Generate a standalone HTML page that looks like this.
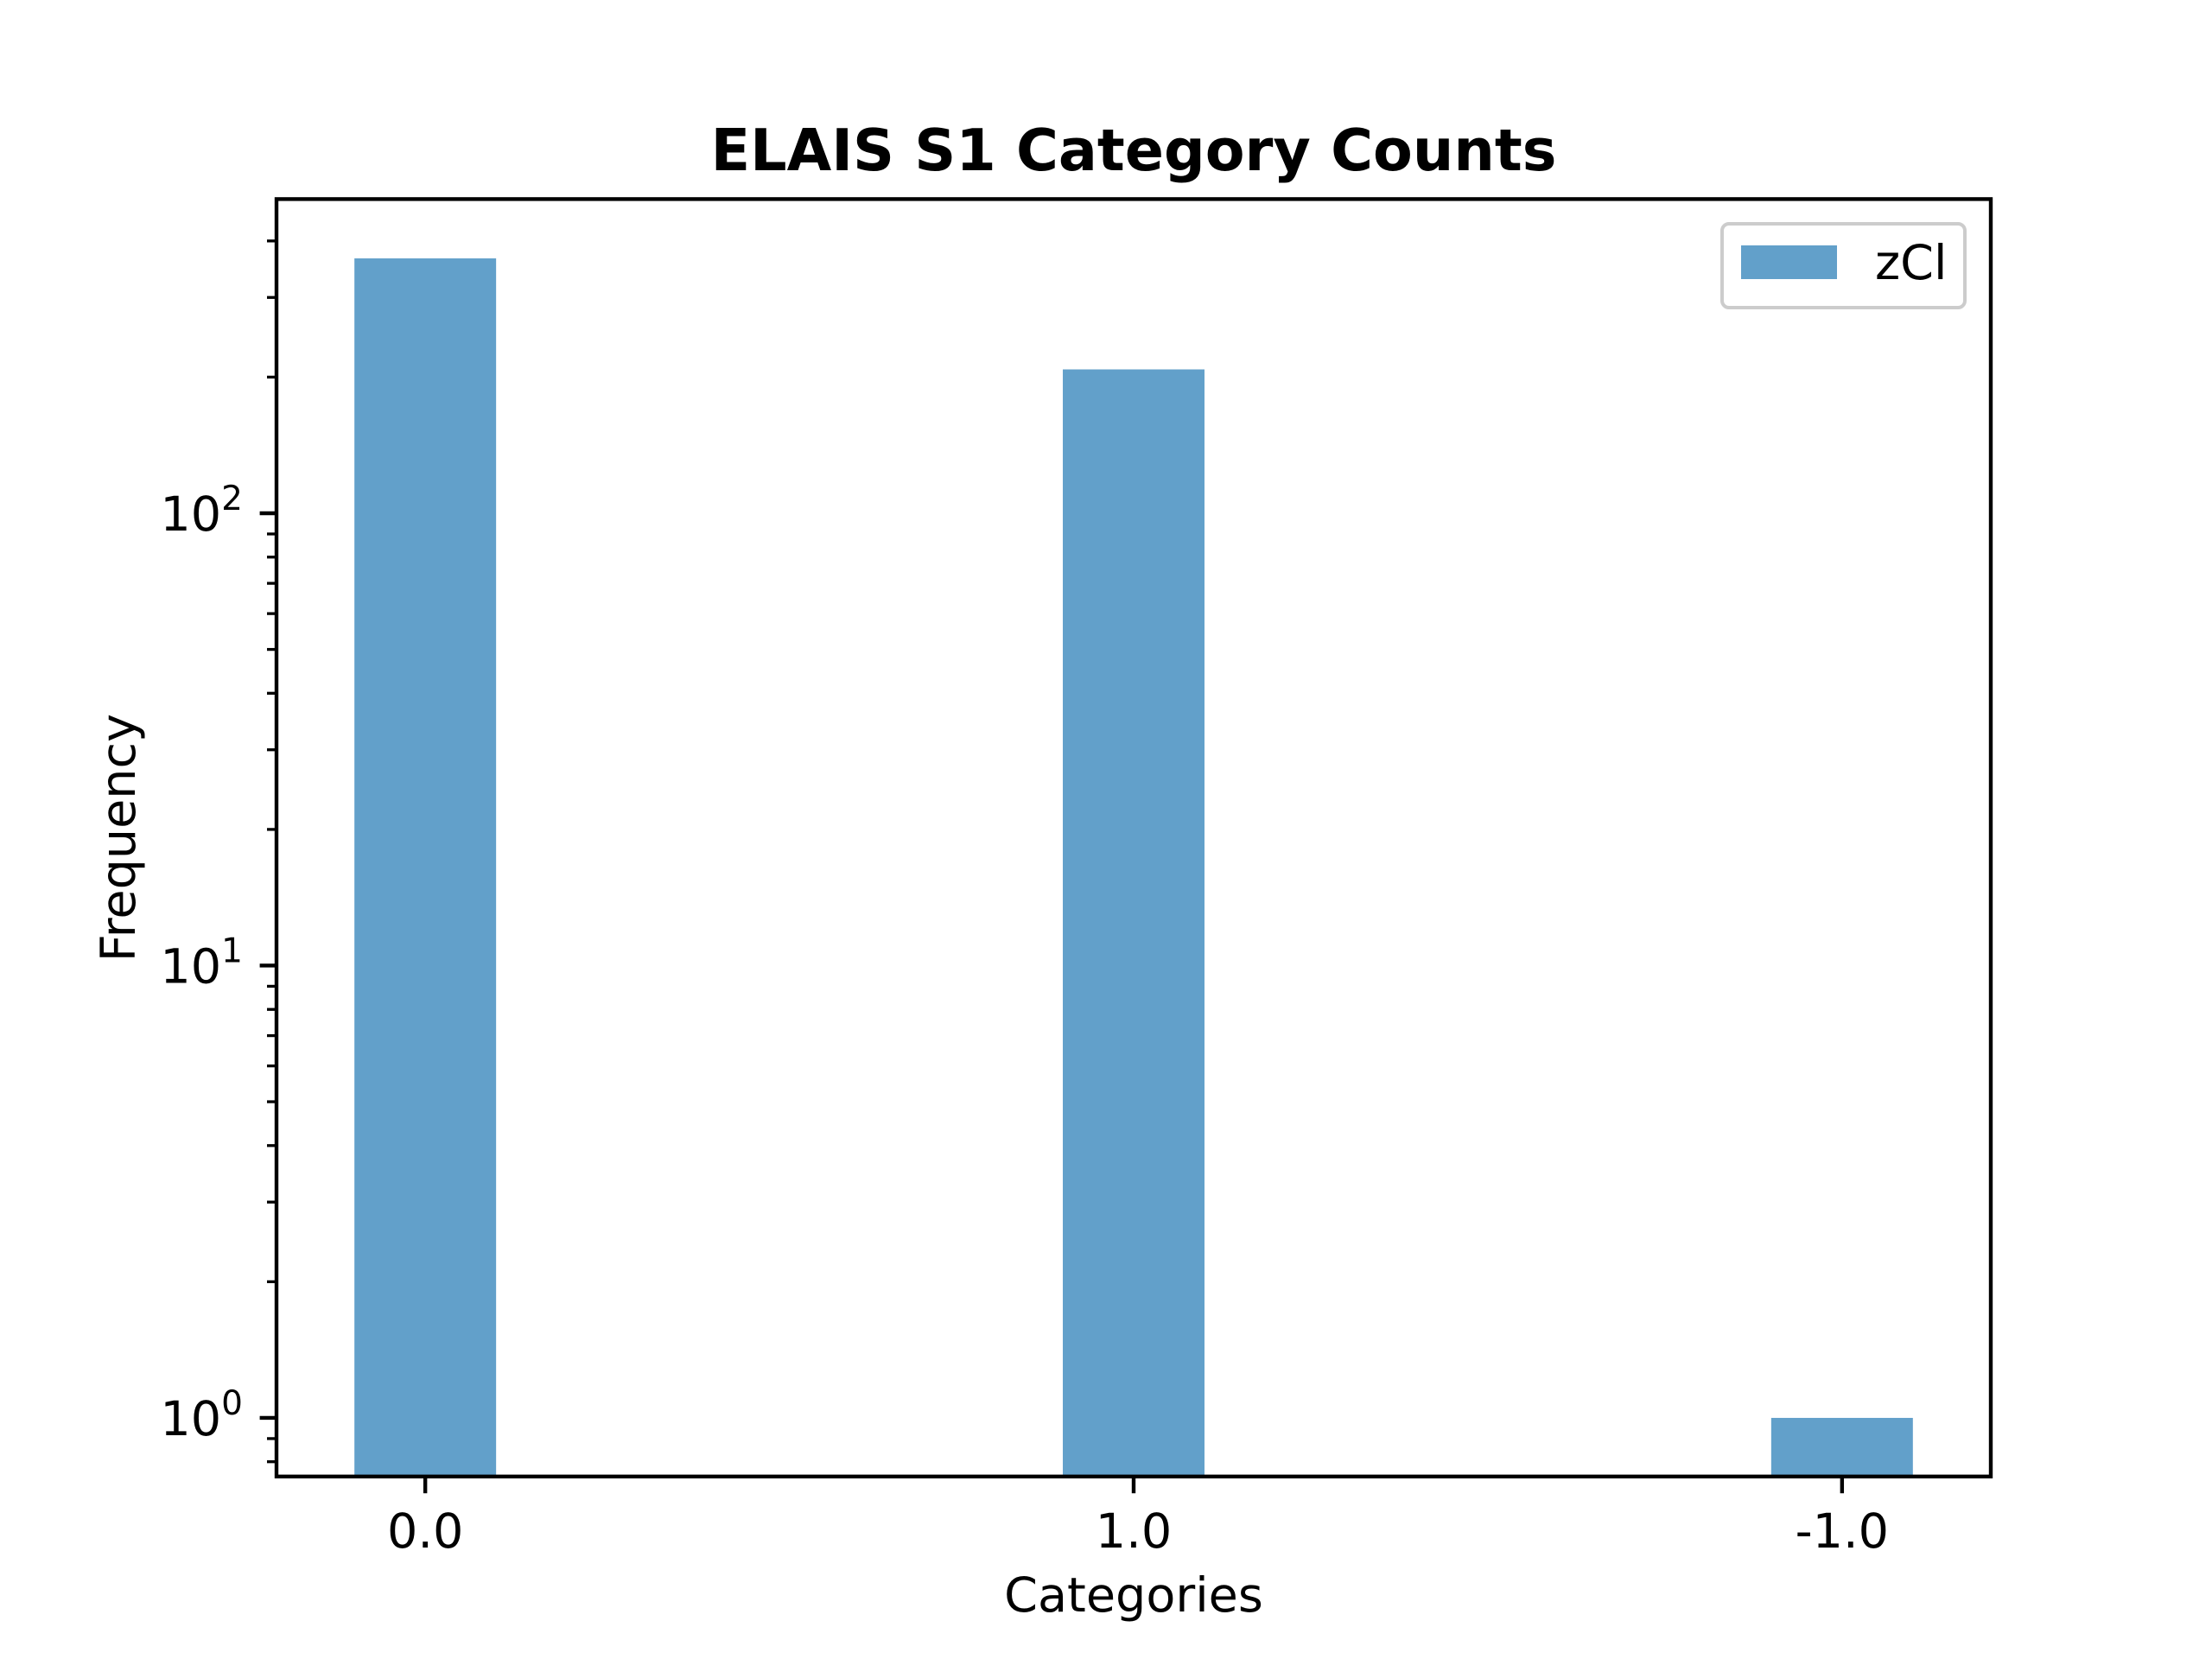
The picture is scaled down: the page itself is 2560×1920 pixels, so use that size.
<!DOCTYPE html>
<html><head><meta charset="utf-8"><style>html,body{margin:0;padding:0;background:#fff}svg{display:block}text{font-family:"DejaVu Sans","Liberation Sans",sans-serif;fill:#000}</style></head>
<body>
<svg id="chart" width="2560" height="1920" viewBox="0 0 2560 1920" xmlns="http://www.w3.org/2000/svg">
<rect width="2560" height="1920" fill="#fff"/>
<text x="1312" y="197" text-anchor="middle" font-size="66.7" font-weight="bold">ELAIS S1 Category Counts</text>
<g id="bars"></g><g id="ticks"></g>
<rect x="320" y="230.4" width="1984" height="1478.4" fill="none" stroke="#000" stroke-width="4.4"/>
<text x="1312" y="1865" text-anchor="middle" font-size="55.6">Categories</text>
<text transform="translate(156,969.6) rotate(-90)" text-anchor="middle" font-size="55.6">Frequency</text>
<g>
<rect x="1993" y="259" width="281" height="97" rx="8" fill="#fff" fill-opacity="0.8" stroke="#ccc" stroke-width="4"/>
<rect x="2015" y="284" width="111" height="39" fill="rgb(98,160,202)"/>
<text x="2170" y="323" font-size="55.6">zCl</text>
</g>
</svg>
<script>
const categories = ["0.0", "1.0", "-1.0"];
const counts = [366, 208, 1];
const yTickExps = [0, 1, 2];
const NS = "http://www.w3.org/2000/svg";
const L = 320, R = 2304, T = 230.4, B = 1708.8;
const xMin = -0.21, xMax = 2.21, yMin = Math.log10(0.742), yMax = Math.log10(495);
const xs = v => L + (v - xMin) / (xMax - xMin) * (R - L);
const ys = v => B - (Math.log10(v) - yMin) / (yMax - yMin) * (B - T);
function mk(tag, attrs, parent) { const e = document.createElementNS(NS, tag); for (const k in attrs) e.setAttribute(k, attrs[k]); parent.appendChild(e); return e; }
const bars = document.getElementById('bars'), ticks = document.getElementById('ticks');
categories.forEach((c, i) => {
  const x0 = xs(i - 0.1), x1 = xs(i + 0.1), y = ys(counts[i]);
  const r = mk('rect', {x: x0, y: y, width: x1 - x0, height: B - y, fill: 'rgb(98,160,202)'}, bars);
  
  
  const t = mk('line', {x1: xs(i), x2: xs(i), y1: B, y2: B + 19.4, stroke: '#000', 'stroke-width': 4.4}, ticks);
  
  
  const lb = mk('text', {x: xs(i), y: 1791, 'text-anchor': 'middle', 'font-size': 55.6}, ticks);
  lb.textContent = c;
  
  
});
yTickExps.forEach(e => {
  const y = ys(Math.pow(10, e));
  const t = mk('line', {x1: L - 19.4, x2: L, y1: y, y2: y, stroke: '#000', 'stroke-width': 4.4}, ticks);
  
  
  const lb = mk('text', {x: 281, y: y + 20, 'text-anchor': 'end', 'font-size': 55.6}, ticks);
  
  
  const a = document.createElementNS(NS, 'tspan'); a.textContent = '10'; lb.appendChild(a);
  const s = document.createElementNS(NS, 'tspan'); s.setAttribute('dy', '-24'); s.setAttribute('font-size', '39'); s.textContent = String(e); lb.appendChild(s);
});
[-1, 0, 1, 2].forEach(e => { for (let m = 2; m <= 9; m++) {
  const v = m * Math.pow(10, e); const lv = Math.log10(v);
  if (lv < yMin || lv > yMax) continue;
  const y = ys(v);
  const t = mk('line', {x1: L - 11, x2: L, y1: y, y2: y, stroke: '#000', 'stroke-width': 3.3}, ticks);
  
  
}});
</script>
</body></html>
